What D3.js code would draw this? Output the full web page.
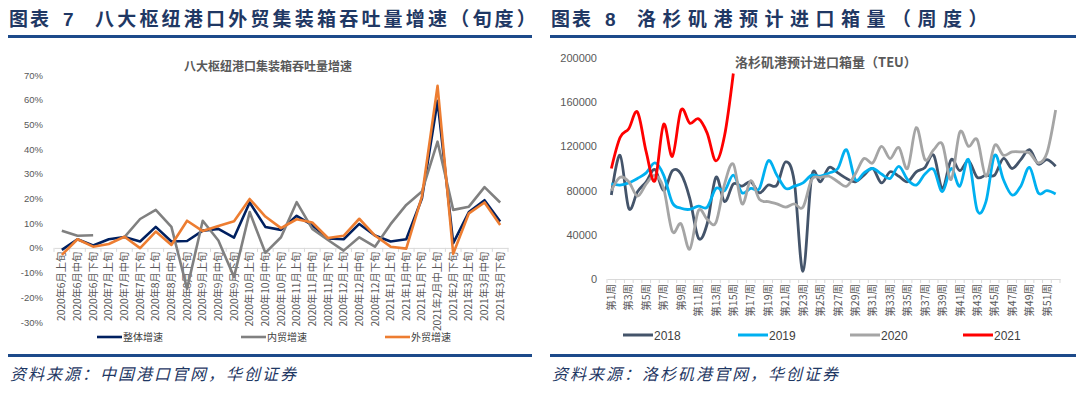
<!DOCTYPE html>
<html>
<head>
<meta charset="utf-8">
<script src="https://cdn.jsdelivr.net/npm/d3@7"></script>
<style>
    body {margin: 0; background: #fff;}
    text {font-family: 'Liberation Sans', 'Noto Sans CJK SC', sans-serif;}
    .cjk {font-family: 'Noto Sans CJK SC', sans-serif;}
</style>
</head>
<body>
<svg width="1080" height="394"></svg>
<script>
// left chart: categories and growth series (%)
const PERIODS = ['2020年6月上旬', '2020年6月中旬', '2020年6月下旬', '2020年7月上旬', '2020年7月中旬', '2020年7月下旬',
    '2020年8月上旬', '2020年8月中旬', '2020年8月下旬', '2020年9月上旬', '2020年9月中旬', '2020年9月下旬',
    '2020年10月上旬', '2020年10月中旬', '2020年10月下旬', '2020年11月上旬', '2020年11月中旬', '2020年11月下旬',
    '2020年12月上旬', '2020年12月中旬', '2020年12月下旬', '2021年1月上旬', '2021年1月中旬', '2021年1月下旬',
    '2021年2月中上旬', '2021年2月下旬', '2021年3月上旬', '2021年3月中旬', '2021年3月下旬'];
const TOTAL_GROWTH = [-0.8, 3.5, 1, 3.5, 4.4, 2.6, 8.5, 2.6, 2.8, 7, 7.7, 4.2, 18.4, 8.5, 7.3, 13, 9.2, 3.8, 3.5, 9.7,
    5, 2.6, 3.5, 20, 59.5, 1.9, 14.5, 19.3, 10.7];
const DOMESTIC_GROWTH = [6.9, 4.9, 5.1, null, 4.4, 11.7, 15.4, 8.5, -16.5, 11, 3, -11.8, 14.5, -2, 4.3, 18.5, 7.7, 3.2,
    -1.1, 4.3, 0.5, 9.6, 17.4, 22.8, 43, 15.4, 16.7, 24.6, 18.4];
const FOREIGN_GROWTH = [-2.8, 3.5, 0.5, 1.6, 4.5, -0.1, 6.6, 1.2, 11, 6.8, 8.9, 10.8, 19.8, 12.7, 8, 11.6, 10.3, 4, 4.9,
    11.8, 5, 0.5, -0.3, 20.8, 65.6, -2.4, 14, 18.4, 9.3];
const PCT_TICKS = [-30, -20, -10, 0, 10, 20, 30, 40, 50, 60, 70];

// right chart: weekly TEU
const WEEKS = d3.range(1, 53).map(w => `第${w}周`);
const TEU_2018 = [76000, 112000, 64000, 79000, 88000, 99000, 80000, 98000, 95000, 73000, 37000, 50000, 92000, 70000,
    86000, 84000, 88000, 78000, 85000, 85000, 106000, 88000, 7000, 93000, 88000, 101000, 96000, 91000, 88000, 94000,
    100000, 87000, 97000, 93000, 88000, 97000, 101000, 112000, 82000, 108000, 98000, 107000, 92000, 94000, 94000,
    109000, 100000, 108000, 117000, 104000, 108000, 102000];
const TEU_2019 = [86000, 85000, 87000, 91000, 96000, 105000, 94000, 69000, 64000, 63000, 66000, 65000, 82000, 80000,
    94000, 78000, 82000, 82000, 107000, 94000, 82000, 84000, 87000, 94000, 93000, 96000, 100000, 117000, 90000, 96000,
    100000, 95000, 91000, 102000, 90000, 85000, 95000, 99000, 79000, 100000, 84000, 108000, 62000, 70000, 112000,
    90000, 76000, 84000, 101000, 78000, 80000, 77000];
const TEU_2020 = [80000, 92000, 88000, 75000, 86000, 94000, 82000, 43000, 50000, 27000, 62000, 54000, 51000, 86000,
    104000, 68000, 89000, 72000, 70000, 68000, 65000, 68000, 65000, 90000, 92000, 93000, 88000, 84000, 95000, 109000,
    105000, 120000, 109000, 119000, 100000, 137000, 108000, 117000, 122000, 90000, 133000, 120000, 126000, 93000,
    121000, 112000, 115000, 115000, 114000, 105000, 114000, 153000];
const TEU_2021 = [100000, 128000, 136000, 151000, 115000, 89000, 140000, 111000, 153000, 141000, 145000, 132000,
    107000, 130000, 186000];
const TEU_TICKS = [0, 40000, 80000, 120000, 160000, 200000];

const NAVY = '#1f3864';
const RULE = '#1d4a8a';

const svg = d3.select('svg');
svg.append('rect').attr('width', 1080).attr('height', 394).attr('fill', '#fff');

// panel headers, rules and sources
function panelFrame(x0, x1, num, title, spacing, source) {
    const g = svg.append('g');
    g.append('text').classed('cjk', true).attr('x', x0 + 1).attr('y', 26)
        .attr('font-size', 19).attr('font-weight', 'bold').attr('fill', NAVY).attr('letter-spacing', 2).text('图表');
    g.append('text').attr('x', x0 + 55).attr('y', 26).attr('font-family', 'Liberation Serif')
        .attr('font-size', 19).attr('font-weight', 'bold').attr('fill', NAVY).text(num);
    g.append('text').classed('cjk', true).attr('x', x0 + 87).attr('y', 26)
        .attr('font-size', 19).attr('font-weight', 'bold').attr('fill', NAVY).attr('letter-spacing', spacing).text(title);
    g.append('rect').attr('x', x0).attr('y', 35).attr('width', x1 - x0).attr('height', 3).attr('fill', RULE);
    g.append('rect').attr('x', x0).attr('y', 354).attr('width', x1 - x0).attr('height', 3).attr('fill', RULE);
    g.append('text').classed('cjk', true).attr('x', x0 + 2).attr('y', 380)
        .attr('font-size', 16).attr('font-style', 'italic').attr('fill', NAVY).attr('letter-spacing', 2).text(source);
}
panelFrame(8, 532, '7', '八大枢纽港口外贸集装箱吞吐量增速（旬度）', 3.2, '资料来源：中国港口官网，华创证券');
panelFrame(550, 1076, '8', '洛杉矶港预计进口箱量（周度）', 6.5, '资料来源：洛杉矶港官网，华创证券');

// ---------- left chart ----------
const xL = d3.scaleBand().domain(PERIODS).range([54, 508]);
const yL = d3.scaleLinear().domain([-30, 70]).range([322, 75]);
const left = svg.append('g');

left.append('text').classed('cjk', true).attr('x', 268).attr('y', 71).attr('text-anchor', 'middle')
    .attr('font-size', 12).attr('font-weight', 'bold').attr('fill', '#595959').text('八大枢纽港口集装箱吞吐量增速');

left.append('g').attr('transform', 'translate(54,0)')
    .call(d3.axisLeft(yL).tickValues(PCT_TICKS).tickSize(0).tickPadding(11).tickFormat(d => d + '%'))
    .call(g => g.select('.domain').remove())
    .call(g => g.selectAll('text').attr('font-size', 9.5).attr('fill', '#595959').attr('font-family', 'Liberation Sans'));

const xAxisL = left.append('g').attr('transform', `translate(0,${yL(0)})`)
    .call(d3.axisBottom(xL).tickSize(0).tickSizeOuter(0));
xAxisL.select('.domain').attr('stroke', '#d9d9d9');
xAxisL.selectAll('text')
    .attr('transform', 'rotate(-90)').attr('x', -4).attr('y', 0).attr('dy', '0.35em')
    .style('text-anchor', 'end').attr('font-size', 10.2).attr('fill', '#595959').attr('class', 'cjk');
// boundary ticks
xAxisL.selectAll('.bound').data(d3.range(PERIODS.length + 1)).enter().append('line')
    .attr('x1', i => 54 + i * xL.step()).attr('x2', i => 54 + i * xL.step())
    .attr('y1', 0).attr('y2', 4).attr('stroke', '#d9d9d9');

const SERIES_L = [
    {name: '整体增速', values: TOTAL_GROWTH, color: '#002060', lx: 97},
    {name: '内贸增速', values: DOMESTIC_GROWTH, color: '#808080', lx: 241},
    {name: '外贸增速', values: FOREIGN_GROWTH, color: '#ed7d31', lx: 385}
];
const lineL = d3.line()
    .defined(d => d.v !== null)
    .x(d => xL(d.p) + xL.bandwidth() / 2)
    .y(d => yL(d.v));
SERIES_L.forEach(s => {
    left.append('path')
        .datum(PERIODS.map((p, i) => ({p: p, v: s.values[i]})))
        .attr('d', lineL).attr('fill', 'none').attr('stroke', s.color)
        .attr('stroke-width', 2.6).attr('stroke-linejoin', 'round');
    left.append('line').attr('x1', s.lx).attr('x2', s.lx + 25).attr('y1', 337).attr('y2', 337)
        .attr('stroke', s.color).attr('stroke-width', 2.6);
    left.append('text').classed('cjk', true).attr('x', s.lx + 26).attr('y', 341)
        .attr('font-size', 10).attr('fill', '#404040').text(s.name);
});

// ---------- right chart ----------
const xR = d3.scaleBand().domain(WEEKS).range([607, 1060]);
const yR = d3.scaleLinear().domain([0, 200000]).range([279, 58]);
const right = svg.append('g');

right.append('text').classed('cjk', true).attr('x', 735).attr('y', 67)
    .attr('font-size', 13).attr('font-weight', 'bold').attr('fill', '#595959').text('洛杉矶港预计进口箱量（TEU）');

right.append('g').attr('transform', 'translate(607,0)')
    .call(d3.axisLeft(yR).tickValues(TEU_TICKS).tickSize(0).tickPadding(10).tickFormat(d => d))
    .call(g => g.select('.domain').remove())
    .call(g => g.selectAll('text').attr('font-size', 11).attr('fill', '#595959').attr('font-family', 'Liberation Sans'));

const xAxisR = right.append('g').attr('transform', `translate(0,${yR(0)})`)
    .call(d3.axisBottom(xR).tickSize(0).tickSizeOuter(0)
        .tickValues(WEEKS.filter((w, i) => i % 2 === 0)));
xAxisR.select('.domain').attr('stroke', '#d9d9d9');
xAxisR.selectAll('text')
    .attr('transform', 'rotate(-90)').attr('x', -5).attr('y', 0).attr('dy', '0.35em')
    .style('text-anchor', 'end').attr('font-size', 10.5).attr('fill', '#595959').attr('class', 'cjk');
xAxisR.selectAll('.bound').data(d3.range(WEEKS.length + 1)).enter().append('line')
    .attr('x1', i => 607 + i * xR.step()).attr('x2', i => 607 + i * xR.step())
    .attr('y1', 0).attr('y2', 4).attr('stroke', '#d9d9d9');

const SERIES_R = [
    {name: '2018', values: TEU_2018, color: '#44546a', lx: 623},
    {name: '2019', values: TEU_2019, color: '#00b0f0', lx: 738},
    {name: '2020', values: TEU_2020, color: '#a5a5a5', lx: 850},
    {name: '2021', values: TEU_2021, color: '#ff0000', lx: 963}
];
const lineR = d3.line()
    .x(d => xR(d.w) + xR.bandwidth() / 2)
    .y(d => yR(d.v))
    .curve(d3.curveCardinal.tension(0));
SERIES_R.forEach(s => {
    right.append('path')
        .datum(s.values.map((v, i) => ({w: WEEKS[i], v: v})))
        .attr('d', lineR).attr('fill', 'none').attr('stroke', s.color)
        .attr('stroke-width', 2.8).attr('stroke-linejoin', 'round');
    right.append('line').attr('x1', s.lx).attr('x2', s.lx + 30).attr('y1', 335).attr('y2', 335)
        .attr('stroke', s.color).attr('stroke-width', 3);
    right.append('text').attr('x', s.lx + 31).attr('y', 339.5)
        .attr('font-size', 12).attr('fill', '#404040').text(s.name);
});
</script>
</body>
</html>
